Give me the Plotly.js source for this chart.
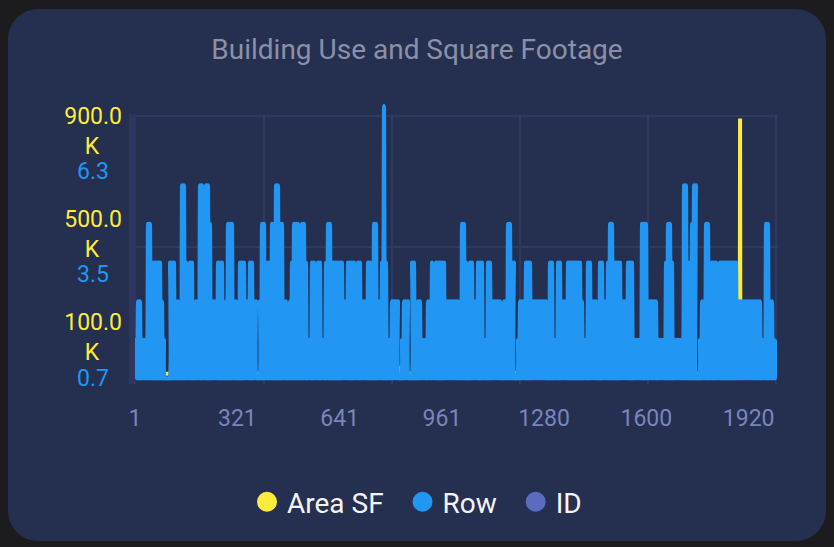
<!DOCTYPE html>
<html>
<head>
<meta charset="utf-8">
<script src="https://cdn.plot.ly/plotly-3.0.1.min.js"></script>
<style>
  html, body { margin: 0; padding: 0; width: 834px; height: 547px; overflow: hidden; background: #1c1c1e; }
  #card { position: absolute; left: 8px; top: 9px; width: 818px; height: 532px; border-radius: 30px; background: #252f50; }
  #chart { position: absolute; left: 0; top: 0; width: 834px; height: 547px; }
</style>
</head>
<body>
<div id="card"></div>
<div id="chart"></div>
<script>
// ---------------- data ----------------
const chartTitle = 'Building Use and Square Footage';
const seriesNames = ['Area SF', 'Row', 'ID'];
const seriesColors = ['#ffeb3b', '#2196f3', '#5c6bc0'];

// x axis (ID) tick labels
const xTickVals = [1, 321, 641, 961, 1280, 1600, 1920];

// Area SF axis tick labels
const areaTickVals = [100000, 500000, 900000];
const areaTickText = ['100.0', '500.0', '900.0'];
const areaTickUnit = 'K';

// Row axis tick labels
const rowTickVals = [0.7, 3.5, 6.3];
const rowTickText = ['0.7', '3.5', '6.3'];

// Row series: sampled every rowIdStep IDs starting at rowFirstId,
// each character is a level code, rowLevels gives the value read for that code
const rowFirstId = 1;
const rowIdStep = 3.127;
const rowLevels = [null, 1.02, 2.07, 3.11, 4.16, 5.21, 6.25, 7.30, 8.40];
const rowCodes = [
  '12131312121215151414', '14141413121111141414', '13131216161413141412', '13131616131616151313',
  '13141414121315151513', '13121414141313141413', '13111315151314141515', '16161515131312131415',
  '15151415151412121414', '13141412121415151414', '14141414131314141414', '13141413131314141215',
  '15131314181412121313', '13131112131313111414', '12131312121213131413', '14141414141313131313',
  '13131215151412141413', '13141414121214141313', '13131312131315151414', '11121313131414141313',
  '13131313131312141412', '12141413131314141414', '14141413121214141313', '13121414131314151514',
  '14141413131314141412', '12121215151513131313', '13121212121415151412', '12121212161614141516',
  '16111213131515131414', '14131414141414141414', '14131313131313131313', '13131312121515131312',
  '12'
].join('');
const rowValues = rowCodes.split('').map(c => rowLevels[Number(c)]);

// Area SF series
const areaIds    = [1, 60, 98, 104, 200, 300, 386, 500, 650, 800, 826, 829, 832, 950, 1100, 1192, 1300, 1450, 1600, 1700, 1768, 1850, 1892, 1893, 1894, 1950, 2006];
const areaValues = [8000, 12000, 5000, 5000, 14000, 9000, 5000, 11000, 16000, 7000, 4000, 35000, 4000, 9000, 13000, 8000, 10000, 15000, 7000, 11000, 4000, 9000, 6000, 995000, 6000, 10000, 7000];

// ---------------- styling ----------------
const FONT = 'Roboto, "Noto Sans", sans-serif';
const GRID = '#2f3a63';
const STRIP = '#2c3660';
const W = 834, H = 547;
const px = v => v / W;           // horizontal pixel -> paper fraction
const py = v => (H - v) / H;     // vertical pixel -> paper fraction

const NB = '\u00a0';
const areaTickLabels = areaTickText.map(t => t + '<br>' + areaTickUnit + NB + NB + NB + NB);
const legendNames = [seriesNames[0] + NB + NB, seriesNames[1] + NB + NB, seriesNames[2]];

const AREA_RANGE = [-104752, 1082436];
const ROW_RANGE = [0.3803, 8.6708];
const LABEL_LIFT = 12.5; // labels sit above their ticks, as in the reference

const traces = [
  // empty traces anchoring the grid subplot and the tick-label axes
  { x: [], y: [], xaxis: 'x', yaxis: 'y', type: 'scatter', mode: 'lines', showlegend: false, hoverinfo: 'skip' },
  { x: [], y: [], xaxis: 'x2', yaxis: 'y4', type: 'scatter', mode: 'lines', showlegend: false, hoverinfo: 'skip' },
  { x: [], y: [], xaxis: 'x2', yaxis: 'y5', type: 'scatter', mode: 'lines', showlegend: false, hoverinfo: 'skip' },
  {
    name: seriesNames[0], x: areaIds, y: areaValues, xaxis: 'x2', yaxis: 'y2',
    type: 'scatter', mode: 'lines', line: { color: seriesColors[0], width: 4 }, showlegend: false
  },
  {
    name: seriesNames[1], x0: rowFirstId, dx: rowIdStep, y: rowValues, xaxis: 'x2', yaxis: 'y3',
    type: 'scatter', mode: 'lines', line: { color: seriesColors[1], width: 4, shape: 'spline', smoothing: 1 }, showlegend: false
  }
];
// legend entries (circles)
seriesNames.forEach((n, i) => {
  traces.push({
    name: legendNames[i], x: [null], y: [null], xaxis: 'x2', yaxis: 'y2', type: 'scatter', mode: 'markers',
    marker: { color: seriesColors[i], size: 16, line: { color: seriesColors[i], width: 4 } }, showlegend: true
  });
});

const layout = {
  width: W, height: H,
  margin: { l: 0, r: 0, t: 0, b: 0, pad: 0 },
  paper_bgcolor: 'rgba(0,0,0,0)',
  plot_bgcolor: 'rgba(0,0,0,0)',
  font: { family: FONT },
  showlegend: true,
  title: {
    text: chartTitle, x: 0.5, xanchor: 'center', y: py(49), yanchor: 'middle',
    font: { family: FONT, size: 28, color: '#8b90a9' }
  },
  legend: {
    orientation: 'h', x: 0.5, xanchor: 'center', y: py(502), yanchor: 'middle',
    font: { family: FONT, size: 28, color: '#f4f4f6' }, bgcolor: 'rgba(0,0,0,0)', itemclick: false
  },
  // grid subplot
  xaxis: {
    domain: [px(135.5), px(778.3)], range: [0, 5.02], anchor: 'y',
    tick0: 0, dtick: 1, showgrid: true, gridcolor: GRID, gridwidth: 2,
    showticklabels: false, ticks: '', zeroline: false, showline: false, fixedrange: true
  },
  yaxis: {
    domain: [py(384), py(114)], range: [-0.0505, 2.0153], anchor: 'x',
    tick0: 0, dtick: 1, showgrid: true, gridcolor: GRID, gridwidth: 2,
    showticklabels: false, ticks: '', zeroline: false,
    showline: true, linecolor: STRIP, linewidth: 7, fixedrange: true
  },
  // data subplot
  xaxis2: {
    domain: [px(135), px(777)], range: [1, 2008.5], anchor: 'y2',
    tickmode: 'array', tickvals: xTickVals, ticks: '', showgrid: false, zeroline: false, showline: false,
    tickfont: { family: FONT, size: 23, color: '#7a85bb' }, ticklabelstandoff: 0
  },
  yaxis2: {
    domain: [py(402), py(96)], range: AREA_RANGE, anchor: 'x2', side: 'left',
    showticklabels: false, ticks: '', showgrid: false, zeroline: false, showline: false
  },
  yaxis3: {
    overlaying: 'y2', range: ROW_RANGE, anchor: 'x2', side: 'left',
    showticklabels: false, ticks: '', showgrid: false, zeroline: false, showline: false
  },
  // tick-label axes (same scales, labels lifted above their ticks)
  yaxis4: {
    domain: [py(402 - LABEL_LIFT), py(96 - LABEL_LIFT)], range: AREA_RANGE, anchor: 'x2', side: 'left',
    tickmode: 'array', tickvals: areaTickVals, ticktext: areaTickLabels, ticks: '',
    showgrid: false, zeroline: false, showline: false, ticklabelstandoff: 12,
    tickfont: { family: FONT, size: 23, color: seriesColors[0] }
  },
  yaxis5: {
    overlaying: 'y4', range: ROW_RANGE, anchor: 'x2', side: 'left',
    tickmode: 'array', tickvals: rowTickVals, ticktext: rowTickText, ticks: '',
    showgrid: false, zeroline: false, showline: false, ticklabelstandoff: 25,
    tickfont: { family: FONT, size: 23, color: seriesColors[1] }
  }
};

Plotly.newPlot('chart', traces, layout, { staticPlot: true, displayModeBar: false });
</script>
</body>
</html>
